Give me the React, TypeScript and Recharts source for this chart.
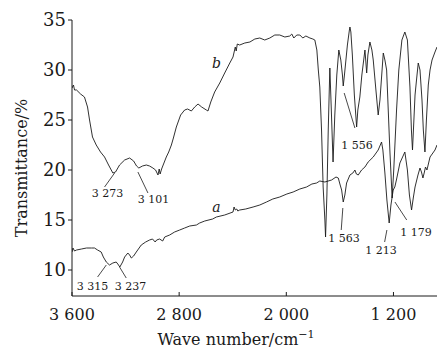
import { LineChart, Line, XAxis, YAxis, ReferenceLine, ReferenceDot, Label } from "recharts"

// curve b (upper)
const bWave = [
  3600, 3589, 3581, 3566, 3536, 3507, 3484, 3469, 3447, 3419, 3387, 3357, 3327, 3295, 3275, 3245,
  3207, 3170, 3140, 3118, 3101, 3074, 3045, 3021, 2996, 2976, 2958, 2949, 2942, 2931, 2896, 2878,
  2858, 2843, 2821, 2789, 2759, 2737, 2709, 2684, 2659, 2632, 2597, 2585, 2564, 2535, 2497, 2460,
  2422, 2398, 2381, 2374, 2366, 2348, 2310, 2272, 2235, 2198, 2161, 2123, 2086, 2049, 2011, 1974,
  1959, 1944, 1922, 1899, 1877, 1854, 1824, 1802, 1787, 1772, 1761, 1750, 1737, 1725, 1712, 1707,
  1697, 1687, 1675, 1664, 1651, 1638, 1623, 1608, 1593, 1581, 1575, 1566, 1544, 1529, 1525, 1518,
  1507, 1492, 1475, 1466, 1451, 1436, 1413, 1400, 1391, 1376, 1361, 1351, 1331, 1314, 1301, 1276,
  1264, 1251, 1239, 1227, 1210, 1198, 1177, 1160, 1137, 1115, 1096, 1077, 1066, 1058, 1051, 1039,
  1028, 1015, 1002, 987, 977, 965, 954, 940, 927, 912, 890, 875,
]
const bTrans = [
  28.2, 28.5, 28.0, 28.0, 27.6, 27.3, 26.3, 25.0, 23.3, 22.5, 21.8, 21.3, 20.5, 19.7, 19.8, 20.5,
  21.0, 21.2, 20.9, 20.4, 20.2, 20.4, 20.5, 20.4, 20.2, 20.0, 19.5, 20.1, 19.6, 20.1, 21.3, 21.8,
  22.5, 23.2, 24.3, 25.5, 26.0, 26.1, 25.9, 26.3, 26.6, 26.3, 26.0, 25.9, 26.8, 27.8, 28.7, 29.7,
  30.7, 31.3, 32.3, 31.9, 32.6, 32.5, 32.7, 32.8, 33.1, 33.2, 33.0, 33.2, 33.5, 33.5, 33.3, 33.4,
  33.6, 33.2, 33.5, 33.5, 33.2, 33.4, 33.2, 33.1, 33.0, 32.0, 30.0, 28.3, 24.0, 18.3, 15.0, 13.3,
  17.5, 24.0, 30.2, 26.0, 20.8, 25.5, 29.5, 32.0, 31.0, 29.5, 28.4, 29.5, 32.5, 34.0, 34.3, 33.8,
  31.5, 27.5, 24.3, 26.0, 27.3, 29.5, 32.0, 29.7, 31.5, 32.8, 32.0, 31.0, 28.0, 25.5, 27.0, 31.7,
  31.0, 30.0, 26.0, 22.0, 17.2, 20.0, 26.0, 30.0, 33.0, 33.8, 33.0, 28.3, 24.0, 22.0, 24.0, 27.5,
  29.0, 30.7, 30.0, 27.0, 24.0, 21.8, 25.0, 28.5, 30.0, 31.0, 31.8, 32.3,
]

// curve a (lower)
const aWave = [
  3600, 3593, 3581, 3566, 3529, 3492, 3454, 3432, 3409, 3382, 3366, 3344, 3320, 3295, 3270, 3258,
  3243, 3222, 3207, 3183, 3170, 3157, 3140, 3120, 3083, 3050, 3021, 2999, 2979, 2968, 2946, 2923,
  2908, 2871, 2834, 2796, 2759, 2721, 2671, 2647, 2609, 2550, 2522, 2460, 2398, 2390, 2381, 2370,
  2362, 2348, 2303, 2248, 2198, 2148, 2101, 2049, 1996, 1949, 1899, 1849, 1809, 1774, 1750, 1712,
  1662, 1629, 1612, 1600, 1587, 1575, 1563, 1550, 1525, 1503, 1488, 1477, 1463, 1438, 1413, 1389,
  1351, 1314, 1289, 1279, 1264, 1249, 1232, 1219, 1202, 1190, 1178, 1152, 1115, 1096, 1081, 1065,
  1051, 1039, 1017, 1002, 991, 980, 969, 961, 950, 927, 890, 875,
]
const aTrans = [
  11.8, 12.2, 11.9, 12.0, 12.1, 12.2, 12.2, 12.2, 12.0, 11.8, 11.3, 10.8, 10.5, 10.7, 10.8, 10.6,
  10.3, 10.8, 11.3, 11.7, 11.5, 11.2, 11.4, 11.8, 12.5, 12.8, 13.0, 13.1, 12.8, 13.0, 13.1, 12.9,
  13.3, 13.5, 13.8, 14.0, 14.2, 14.4, 14.5, 14.7, 14.9, 15.1, 15.3, 15.5, 15.8, 16.3, 16.0, 16.1,
  15.9, 16.0, 16.1, 16.3, 16.5, 16.8, 17.1, 17.3, 17.6, 17.8, 18.1, 18.3, 18.6, 18.7, 18.9, 18.8,
  19.0, 19.3, 19.2, 18.6, 18.0, 16.8, 17.5, 18.7, 19.5, 19.7, 20.0, 19.6, 19.5, 20.0, 20.3, 20.8,
  21.3, 22.0, 22.8, 22.0, 19.7, 17.0, 14.7, 16.5, 18.0, 18.3, 19.0, 20.7, 21.8, 20.0, 17.5, 16.0,
  17.3, 18.3, 19.5, 20.2, 19.8, 19.2, 19.8, 20.3, 20.0, 21.3, 22.0, 22.5,
]

const xTicks = [3600, 2800, 2000, 1200]
const yTicks = [10, 15, 20, 25, 30, 35]

// peak labels: text, position, leader line ends
const peakText = ["3 273", "3 101", "3 315", "3 237", "1 563", "1 213", "1 179", "1 556"]
const peakAt = [
  [3335, 17.7], [2991, 17.1], [3447, 8.4], [3163, 8.4],
  [1570, 13.2], [1293, 12.0], [1032, 13.8], [1473, 22.5],
]
const leaderFrom = [
  [3357, 18.3], [3108, 19.8], [3409, 9.3], [3245, 10.3],
  [1578, 16.2], [1266, 12.8], [1189, 16.8], [1568, 27.7],
]
const leaderTo = [
  [3282, 19.7], [3033, 17.7], [3344, 10.5], [3195, 9.2],
  [1590, 14.0], [1249, 14.0], [1101, 15.0], [1488, 24.2],
]

const curveB = bWave.map((wn, i) => ({ wn, t: bTrans[i] }))
const curveA = aWave.map((wn, i) => ({ wn, t: aTrans[i] }))

const font = "'DejaVu Serif', serif"
const ink = "#1a1a1a"

const fmt = (v: number) => {
  const s = String(v)
  return s.slice(0, s.length - 3) + " " + s.slice(-3)
}

// centred wave-number tick label
function XTick(props: any) {
  const { x, y, payload } = props
  return (
    <text x={x} y={y} dy={13} textAnchor="middle" fill={ink} fontSize={16} fontFamily={font}>
      {fmt(payload.value)}
    </text>
  )
}

export default function App() {
  return (
    <div style={{ position: "absolute", left: 0, top: 0, width: 437, height: 349, background: "#fff" }}>
      <LineChart width={437} height={349} margin={{ top: 20, right: 0, bottom: 0, left: 0 }}>
        <XAxis
          dataKey="wn"
          type="number"
          domain={[875, 3600]}
          reversed
          allowDataOverflow
          ticks={xTicks}
          interval={0}
          height={53}
          tickSize={-4}
          tickMargin={15}
          stroke={ink}
          tick={<XTick />}
        >
          <Label
            content={() => (
              <text x={236} y={345} textAnchor="middle" fill={ink} fontSize={16} fontFamily={font}>
                <tspan>Wave number/cm</tspan>
                <tspan dy={-7} fontSize={11}>−1</tspan>
              </text>
            )}
          />
        </XAxis>
        <YAxis
          type="number"
          domain={[7.4, 35]}
          allowDataOverflow
          ticks={yTicks}
          width={72}
          tickSize={4}
          tickMargin={2}
          stroke={ink}
          tick={{ fill: ink, fontSize: 18, fontFamily: font }}
        >
          <Label
            content={() => (
              <text
                x={21}
                y={168}
                transform="rotate(-90 21 168)"
                textAnchor="middle"
                dominantBaseline="central"
                fill={ink}
                fontSize={16}
                fontFamily={font}
              >
                Transmittance/%
              </text>
            )}
          />
        </YAxis>
        <Line data={curveB} dataKey="t" stroke={ink} strokeWidth={0.9} dot={false} isAnimationActive={false} />
        <Line data={curveA} dataKey="t" stroke={ink} strokeWidth={0.9} dot={false} isAnimationActive={false} />
        {peakText.map((txt, i) => (
          <ReferenceLine
            key={"l" + txt}
            segment={[
              { x: leaderFrom[i][0], y: leaderFrom[i][1] },
              { x: leaderTo[i][0], y: leaderTo[i][1] },
            ]}
            stroke={ink}
            strokeWidth={0.8}
          />
        ))}
        {peakText.map((txt, i) => (
          <ReferenceDot
            key={"t" + txt}
            x={peakAt[i][0]}
            y={peakAt[i][1]}
            r={0}
            fill="none"
            stroke="none"
            label={{ value: txt, position: "center", fill: ink, fontSize: 11, fontFamily: font }}
          />
        ))}
        <ReferenceDot
          x={2522}
          y={30.7}
          r={0}
          fill="none"
          stroke="none"
          label={{ value: "b", position: "center", fill: ink, fontSize: 14, fontFamily: font, fontStyle: "italic" }}
        />
        <ReferenceDot
          x={2522}
          y={16.3}
          r={0}
          fill="none"
          stroke="none"
          label={{ value: "a", position: "center", fill: ink, fontSize: 14, fontFamily: font, fontStyle: "italic" }}
        />
      </LineChart>
    </div>
  )
}
